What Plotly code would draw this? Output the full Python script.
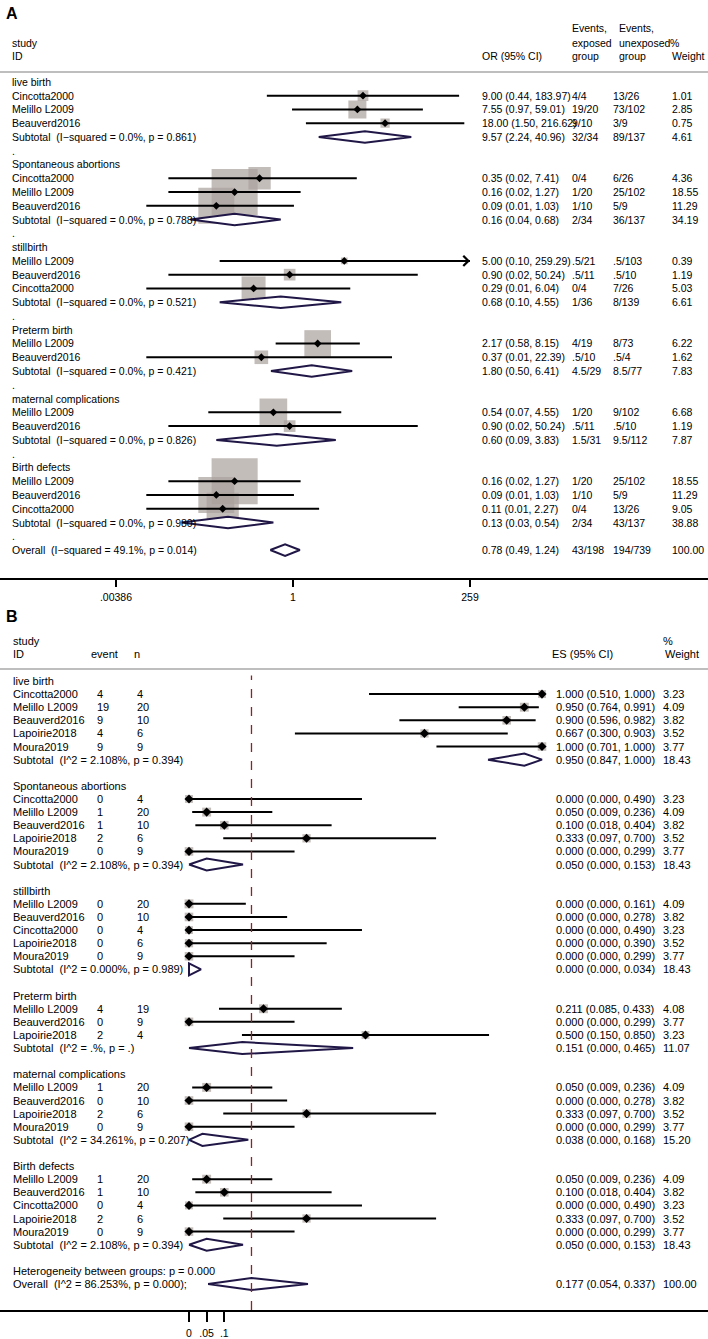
import math
import plotly.graph_objects as go

W, H = 708, 1339
FONT = "Liberation Sans, Arial, sans-serif"

# ---------------- Panel A data (OR, 95% CI) ----------------
A_groups = ["live birth", "Spontaneous abortions", "stillbirth", "Preterm birth",
            "maternal complications", "Birth defects"]
A_studies = [
    ["Cincotta2000", "Melillo L2009", "Beauverd2016"],
    ["Cincotta2000", "Melillo L2009", "Beauverd2016"],
    ["Melillo L2009", "Beauverd2016", "Cincotta2000"],
    ["Melillo L2009", "Beauverd2016"],
    ["Melillo L2009", "Beauverd2016"],
    ["Melillo L2009", "Beauverd2016", "Cincotta2000"],
]
A_or = [[9.00, 7.55, 18.00], [0.35, 0.16, 0.09], [5.00, 0.90, 0.29],
        [2.17, 0.37], [0.54, 0.90], [0.16, 0.09, 0.11]]
A_lo = [[0.44, 0.97, 1.50], [0.02, 0.02, 0.01], [0.10, 0.02, 0.01],
        [0.58, 0.01], [0.07, 0.02], [0.02, 0.01, 0.01]]
A_hi = [[183.97, 59.01, 216.62], [7.41, 1.27, 1.03], [259.29, 50.24, 6.04],
        [8.15, 22.39], [4.55, 50.24], [1.27, 1.03, 2.27]]
A_exp = [["4/4", "19/20", "9/10"], ["0/4", "1/20", "1/10"], [".5/21", ".5/11", "0/4"],
         ["4/19", ".5/10"], ["1/20", ".5/11"], ["1/20", "1/10", "0/4"]]
A_unexp = [["13/26", "73/102", "3/9"], ["6/26", "25/102", "5/9"], [".5/103", ".5/10", "7/26"],
           ["8/73", ".5/4"], ["9/102", ".5/10"], ["25/102", "5/9", "13/26"]]
A_wt = [[1.01, 2.85, 0.75], [4.36, 18.55, 11.29], [0.39, 1.19, 5.03],
        [6.22, 1.62], [6.68, 1.19], [18.55, 11.29, 9.05]]
A_sub_i2 = ["0.0%", "0.0%", "0.0%", "0.0%", "0.0%", "0.0%"]
A_sub_p = ["0.861", "0.788", "0.521", "0.421", "0.826", "0.980"]
A_sub_or = [9.57, 0.16, 0.68, 1.80, 0.60, 0.13]
A_sub_lo = [2.24, 0.04, 0.10, 0.50, 0.09, 0.03]
A_sub_hi = [40.96, 0.68, 4.55, 6.41, 3.83, 0.54]
A_sub_exp = ["32/34", "2/34", "1/36", "4.5/29", "1.5/31", "2/34"]
A_sub_unexp = ["89/137", "36/137", "8/139", "8.5/77", "9.5/112", "43/137"]
A_sub_wt = [4.61, 34.19, 6.61, 7.83, 7.87, 38.88]
A_ovr = {"i2": "49.1%", "p": "0.014", "or": 0.78, "lo": 0.49, "hi": 1.24,
         "exp": "43/198", "unexp": "194/739", "wt": 100.00}
A_ticks = [0.00386, 1, 259]
A_ticktext = [".00386", "1", "259"]

# ---------------- Panel B data (proportions) ----------------
B_groups = A_groups
B_studies = [
    ["Cincotta2000", "Melillo L2009", "Beauverd2016", "Lapoirie2018", "Moura2019"],
    ["Cincotta2000", "Melillo L2009", "Beauverd2016", "Lapoirie2018", "Moura2019"],
    ["Melillo L2009", "Beauverd2016", "Cincotta2000", "Lapoirie2018", "Moura2019"],
    ["Melillo L2009", "Beauverd2016", "Lapoirie2018"],
    ["Melillo L2009", "Beauverd2016", "Lapoirie2018", "Moura2019"],
    ["Melillo L2009", "Beauverd2016", "Cincotta2000", "Lapoirie2018", "Moura2019"],
]
B_event = [[4, 19, 9, 4, 9], [0, 1, 1, 2, 0], [0, 0, 0, 0, 0], [4, 0, 2], [1, 0, 2, 0], [1, 1, 0, 2, 0]]
B_n = [[4, 20, 10, 6, 9], [4, 20, 10, 6, 9], [20, 10, 4, 6, 9], [19, 9, 4], [20, 10, 6, 9], [20, 10, 4, 6, 9]]
B_es = [[1.000, 0.950, 0.900, 0.667, 1.000], [0.000, 0.050, 0.100, 0.333, 0.000],
        [0.000, 0.000, 0.000, 0.000, 0.000], [0.211, 0.000, 0.500],
        [0.050, 0.000, 0.333, 0.000], [0.050, 0.100, 0.000, 0.333, 0.000]]
B_lo = [[0.510, 0.764, 0.596, 0.300, 0.701], [0.000, 0.009, 0.018, 0.097, 0.000],
        [0.000, 0.000, 0.000, 0.000, 0.000], [0.085, 0.000, 0.150],
        [0.009, 0.000, 0.097, 0.000], [0.009, 0.018, 0.000, 0.097, 0.000]]
B_hi = [[1.000, 0.991, 0.982, 0.903, 1.000], [0.490, 0.236, 0.404, 0.700, 0.299],
        [0.161, 0.278, 0.490, 0.390, 0.299], [0.433, 0.299, 0.850],
        [0.236, 0.278, 0.700, 0.299], [0.236, 0.404, 0.490, 0.700, 0.299]]
B_wt = [[3.23, 4.09, 3.82, 3.52, 3.77], [3.23, 4.09, 3.82, 3.52, 3.77],
        [4.09, 3.82, 3.23, 3.52, 3.77], [4.08, 3.77, 3.23],
        [4.09, 3.82, 3.52, 3.77], [4.09, 3.82, 3.23, 3.52, 3.77]]
B_sub_i2 = ["2.108%", "2.108%", "0.000%", ".%", "34.261%", "2.108%"]
B_sub_p = ["0.394", "0.394", "0.989", ".", "0.207", "0.394"]
B_sub_es = [0.950, 0.050, 0.000, 0.151, 0.038, 0.050]
B_sub_lo = [0.847, 0.000, 0.000, 0.000, 0.000, 0.000]
B_sub_hi = [1.000, 0.153, 0.034, 0.465, 0.168, 0.153]
B_sub_wt = [18.43, 18.43, 18.43, 11.07, 15.20, 18.43]
B_het_p = "0.000"
B_ovr = {"i2": "86.253%", "p": "0.000", "es": 0.177, "lo": 0.054, "hi": 0.337, "wt": 100.00}
B_ticks = [0, 0.05, 0.1]
B_ticktext = ["0", ".05", ".1"]

# ---------------- layout geometry (pixels) ----------------
def py(px):
    return 1 - px / H

def pxx(px):
    return px / W

A_top, A_bot = 72, 579
A_row0, A_step = 82, 13.79
B_top, B_bot = 670, 1312
B_row0, B_step = 682, 13.13
A_one_px, A_per_dec = 293, 177 / math.log10(259)
B_zero_px, B_per_unit = 189, 353

BOX_GRAY = "#aaa19d"
DIA_COL = "#211747"
RED = "#8b2525"

fig = go.Figure()
ann = []

def txt(x, y, s, yref="paper", size=10.5, xanchor="left", bold=False, color="black"):
    ann.append(dict(x=x, y=y, xref="paper", yref=yref, text=("<b>%s</b>" % s) if bold else s,
                    showarrow=False, xanchor=xanchor, yanchor="middle",
                    font=dict(family=FONT, size=size, color=color)))

# ---------------- Panel A ----------------
A_max = A_ticks[-1]
box_x, box_y, box_s = [], [], []
ci_x, ci_y = [], []
pt_x, pt_y = [], []
dia_x, dia_y = [], []
arrows = []
r = 0
hA = 0.42
for g, name in enumerate(A_groups):
    txt(pxx(10), r, name, yref="y")
    r += 1
    for j, st in enumerate(A_studies[g]):
        o, lo, hi, w = A_or[g][j], A_lo[g][j], A_hi[g][j], A_wt[g][j]
        txt(pxx(10), r, st, yref="y")
        txt(pxx(480), r, "%.2f (%.2f, %.2f)" % (o, lo, hi), yref="y")
        txt(pxx(570), r, A_exp[g][j], yref="y")
        txt(pxx(611), r, A_unexp[g][j], yref="y")
        txt(pxx(670), r, "%.2f" % w, yref="y")
        box_x.append(o); box_y.append(r); box_s.append(10.7 * math.sqrt(w))
        ci_x += [lo, min(hi, A_max), None]; ci_y += [r, r, None]
        if hi > A_max:
            arrows.append(r)
        pt_x.append(o); pt_y.append(r)
        r += 1
    txt(pxx(10), r, "Subtotal  (I\u2212squared = %s, p = %s)" % (A_sub_i2[g], A_sub_p[g]), yref="y")
    txt(pxx(480), r, "%.2f (%.2f, %.2f)" % (A_sub_or[g], A_sub_lo[g], A_sub_hi[g]), yref="y")
    txt(pxx(570), r, A_sub_exp[g], yref="y")
    txt(pxx(611), r, A_sub_unexp[g], yref="y")
    txt(pxx(670), r, "%.2f" % A_sub_wt[g], yref="y")
    dia_x += [A_sub_lo[g], A_sub_or[g], A_sub_hi[g], A_sub_or[g], A_sub_lo[g], None]
    dia_y += [r, r - hA, r, r + hA, r, None]
    r += 1
    txt(pxx(10), r, ".", yref="y")
    r += 1
txt(pxx(10), r, "Overall  (I\u2212squared = %s, p = %s)" % (A_ovr["i2"], A_ovr["p"]), yref="y")
txt(pxx(480), r, "%.2f (%.2f, %.2f)" % (A_ovr["or"], A_ovr["lo"], A_ovr["hi"]), yref="y")
txt(pxx(570), r, A_ovr["exp"], yref="y")
txt(pxx(611), r, A_ovr["unexp"], yref="y")
txt(pxx(670), r, "%.2f" % A_ovr["wt"], yref="y")
dia_x += [A_ovr["lo"], A_ovr["or"], A_ovr["hi"], A_ovr["or"], A_ovr["lo"], None]
dia_y += [r, r - hA, r, r + hA, r, None]

fig.add_trace(go.Scatter(x=box_x, y=box_y, mode="markers", xaxis="x", yaxis="y",
                         marker=dict(symbol="square", size=box_s, color=BOX_GRAY, line=dict(width=0))))
fig.add_trace(go.Scatter(x=ci_x, y=ci_y, mode="lines", xaxis="x", yaxis="y",
                         line=dict(color="black", width=2)))
fig.add_trace(go.Scatter(x=pt_x, y=pt_y, mode="markers", xaxis="x", yaxis="y",
                         marker=dict(symbol="diamond", size=6, color="black")))
fig.add_trace(go.Scatter(x=dia_x, y=dia_y, mode="lines", xaxis="x", yaxis="y", fill="toself",
                         fillcolor="white", line=dict(color=DIA_COL, width=2)))
for ar in arrows:
    ann.append(dict(x=math.log10(A_max), y=ar, xref="x", yref="y", ax=-12, ay=0, text="",
                    showarrow=True, arrowhead=4, arrowsize=1.1, arrowwidth=1.8, arrowcolor="black"))

# Panel A header
txt(pxx(4), py(14), "A", size=16, bold=True)
txt(pxx(10), py(43), "study"); txt(pxx(10), py(56), "ID")
txt(pxx(480), py(56), "OR (95% CI)")
txt(pxx(570), py(28), "Events,"); txt(pxx(570), py(43), "exposed"); txt(pxx(570), py(56), "group")
txt(pxx(617), py(28), "Events,"); txt(pxx(617), py(43), "unexposed"); txt(pxx(617), py(56), "group")
txt(pxx(668), py(43), "%"); txt(pxx(670), py(56), "Weight")

# ---------------- Panel B ----------------
box_x, box_y, box_s = [], [], []
ci_x, ci_y = [], []
pt_x, pt_y = [], []
dia_x, dia_y = [], []
r = 0
hB = 0.46
for g, name in enumerate(B_groups):
    txt(pxx(11), r, name, yref="y2", size=11)
    r += 1
    for j, st in enumerate(B_studies[g]):
        e, lo, hi, w = B_es[g][j], B_lo[g][j], B_hi[g][j], B_wt[g][j]
        txt(pxx(11), r, st, yref="y2", size=11)
        txt(pxx(95), r, str(B_event[g][j]), yref="y2", size=11)
        txt(pxx(135), r, str(B_n[g][j]), yref="y2", size=11)
        txt(pxx(554), r, "%.3f (%.3f, %.3f)" % (e, lo, hi), yref="y2", size=11)
        txt(pxx(661), r, "%.2f" % w, yref="y2", size=11)
        box_x.append(e); box_y.append(r); box_s.append(4.4 * math.sqrt(w))
        ci_x += [lo, hi, None]; ci_y += [r, r, None]
        pt_x.append(e); pt_y.append(r)
        r += 1
    txt(pxx(11), r, "Subtotal  (I^2 = %s, p = %s)" % (B_sub_i2[g], B_sub_p[g]), yref="y2", size=11)
    txt(pxx(554), r, "%.3f (%.3f, %.3f)" % (B_sub_es[g], B_sub_lo[g], B_sub_hi[g]), yref="y2", size=11)
    txt(pxx(661), r, "%.2f" % B_sub_wt[g], yref="y2", size=11)
    dia_x += [B_sub_lo[g], B_sub_es[g], B_sub_hi[g], B_sub_es[g], B_sub_lo[g], None]
    dia_y += [r, r - hB, r, r + hB, r, None]
    r += 2
txt(pxx(11), r, "Heterogeneity between groups: p = %s" % B_het_p, yref="y2", size=11)
r += 1
txt(pxx(11), r, "Overall  (I^2 = %s, p = %s);" % (B_ovr["i2"], B_ovr["p"]), yref="y2", size=11)
txt(pxx(554), r, "%.3f (%.3f, %.3f)" % (B_ovr["es"], B_ovr["lo"], B_ovr["hi"]), yref="y2", size=11)
txt(pxx(661), r, "%.2f" % B_ovr["wt"], yref="y2", size=11)
dia_x += [B_ovr["lo"], B_ovr["es"], B_ovr["hi"], B_ovr["es"], B_ovr["lo"], None]
dia_y += [r, r - hB, r, r + hB, r, None]

fig.add_trace(go.Scatter(x=box_x, y=box_y, mode="markers", xaxis="x2", yaxis="y2",
                         marker=dict(symbol="square", size=box_s, color=BOX_GRAY, line=dict(width=0))))
fig.add_trace(go.Scatter(x=ci_x, y=ci_y, mode="lines", xaxis="x2", yaxis="y2",
                         line=dict(color="black", width=2)))
fig.add_trace(go.Scatter(x=pt_x, y=pt_y, mode="markers", xaxis="x2", yaxis="y2",
                         marker=dict(symbol="diamond", size=7, color="black")))
fig.add_trace(go.Scatter(x=dia_x, y=dia_y, mode="lines", xaxis="x2", yaxis="y2", fill="toself",
                         fillcolor="white", line=dict(color=DIA_COL, width=2)))

# Panel B header
txt(pxx(4), py(617), "B", size=16, bold=True)
txt(pxx(11), py(642), "study", size=11); txt(pxx(11), py(655), "ID", size=11)
txt(pxx(89), py(655), "event", size=11); txt(pxx(132), py(655), "n", size=11)
txt(pxx(550), py(655), "ES (95% CI)", size=11)
txt(pxx(661), py(642), "%", size=11); txt(pxx(663), py(655), "Weight", size=11)

# ---------------- shapes ----------------
shapes = [
    dict(type="line", xref="paper", yref="paper", x0=0, x1=1, y0=py(A_top), y1=py(A_top),
         line=dict(color="#a8a8a8", width=1.5)),
    dict(type="line", xref="paper", yref="paper", x0=0, x1=1, y0=py(B_top), y1=py(B_top),
         line=dict(color="#a8a8a8", width=1.5)),
    dict(type="line", xref="x", yref="y domain", x0=0, x1=0, y0=0, y1=1,
         line=dict(color="black", width=1.5), layer="above"),
    dict(type="line", xref="x", yref="y domain", x0=math.log10(A_ovr["or"]), x1=math.log10(A_ovr["or"]),
         y0=0, y1=1, line=dict(color=RED, width=1.3, dash="dash"), layer="above"),
    dict(type="line", xref="x2", yref="y2 domain", x0=B_ovr["es"], x1=B_ovr["es"],
         y0=0, y1=0.99, line=dict(color=RED, width=1.3, dash="dash"), layer="above"),
]

A_range_y = [(A_bot - A_row0) / A_step, (A_top - A_row0) / A_step]
B_range_y = [(B_bot - B_row0) / B_step, (B_top - B_row0) / B_step]

fig.update_layout(
    width=W, height=H, margin=dict(l=0, r=0, t=0, b=0),
    paper_bgcolor="white", plot_bgcolor="rgba(0,0,0,0)", showlegend=False,
    hovermode=False,
    font=dict(family=FONT, size=10.5, color="black"),
    xaxis=dict(type="log", domain=[0, 1], anchor="y",
               range=[-A_one_px / A_per_dec, (W - A_one_px) / A_per_dec],
               tickmode="array", tickvals=A_ticks, ticktext=A_ticktext,
               ticks="outside", ticklen=7, tickwidth=1.5, tickcolor="black",
               showline=True, linecolor="black", linewidth=1.5, showgrid=False, zeroline=False,
               tickfont=dict(family=FONT, size=10.5), ticklabelstandoff=2),
    yaxis=dict(domain=[py(A_bot), py(A_top)], range=A_range_y, visible=False, anchor="x"),
    xaxis2=dict(domain=[0, 1], anchor="y2",
                range=[-B_zero_px / B_per_unit, (W - B_zero_px) / B_per_unit],
                tickmode="array", tickvals=B_ticks, ticktext=B_ticktext,
                ticks="outside", ticklen=10, tickwidth=1.5, tickcolor="black",
                showline=True, linecolor="black", linewidth=1.5, showgrid=False, zeroline=False,
                tickfont=dict(family=FONT, size=10.5), ticklabelstandoff=3),
    yaxis2=dict(domain=[py(B_bot), py(B_top)], range=B_range_y, visible=False, anchor="x2"),
    annotations=ann, shapes=shapes,
)

fig.write_html("out.html", config={"displayModeBar": False},
               post_script="document.body.style.margin='0';document.body.style.overflow='hidden';")
